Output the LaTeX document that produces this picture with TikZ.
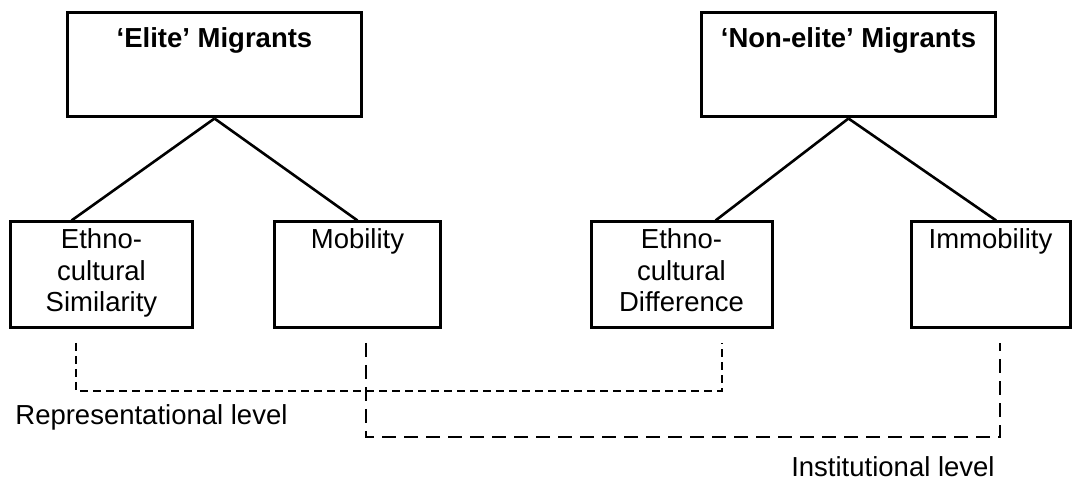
\documentclass[tikz,border=0pt]{standalone}
\usepackage{fontspec}
\setmainfont{Liberation Sans}
\usetikzlibrary{calc}
\begin{document}
\begin{tikzpicture}[x=0.5bp, y=-0.5bp,
    box/.style={draw, line width=1.5bp, inner sep=0pt, minimum height=53bp},
    topbox/.style={box, minimum width=146.5bp, minimum height=52bp},
    lab/.style={font=\fontsize{13.8}{15.75}\selectfont, align=center, inner sep=0pt},
    link/.style={line width=1.3bp},
    rep/.style={line width=1.3bp, dash pattern=on 4bp off 2.5bp},
    inst/.style={line width=1.3bp, dash pattern=on 7bp off 4bp}]
    \useasboundingbox (0,0) rectangle (1072,484);

    \node[topbox] (elite) at (214.5,65) {};
    \node[topbox] (nonelite) at (848.5,65) {};
    \node[lab, anchor=north, font=\fontsize{13.8}{15.75}\selectfont\bfseries]
      (elitetxt) at ([yshift=-8bp]elite.north) {‘Elite’ Migrants};
    \node[lab, anchor=north, font=\fontsize{13.8}{15.75}\selectfont\bfseries]
      (nonelitetxt) at ([yshift=-8bp]nonelite.north) {‘Non-elite’ Migrants};

    \node[box, minimum width=90.5bp] (simil) at (101.5,275) {};
    \node[box, minimum width=82.5bp] (mob) at (357.5,275) {};
    \node[box, minimum width=90.5bp] (diff) at (681.5,275) {};
    \node[box, minimum width=79.5bp] (immob) at (990.5,275) {};
    \node[lab, anchor=north] (similtxt) at ([yshift=-4bp]simil.north)
      {Ethno-\\cultural\\Similarity};
    \node[lab, anchor=north] (mobtxt) at ([yshift=-4bp]mob.north) {Mobility};
    \node[lab, anchor=north] (difftxt) at ([yshift=-4bp]diff.north)
      {Ethno-\\cultural\\Difference};
    \node[lab, anchor=north] (immobtxt) at ([yshift=-4bp]immob.north) {Immobility};

    \draw[link] (elite.south) -- ($(simil.north west)!.337!(simil.north east)$);
    \draw[link] (elite.south) -- (mob.north);
    \draw[link] (nonelite.south) -- ($(diff.north west)!.685!(diff.north east)$);
    \draw[link] (nonelite.south) -- ($(immob.north west)!.535!(immob.north east)$);

    \coordinate (repa) at (76,343);
    \coordinate (repb) at (722,343);
    \coordinate (insta) at (366,343);
    \coordinate (instb) at (1000,343);
    \draw[rep] (repa) -- ++(0,48) -| (repb);
    \draw[inst] (insta) -- ++(0,94) -| (instb);

    \node[lab, anchor=base west] (replab) at (15,425) {Representational level};
    \node[lab, anchor=base east] (instlab) at (995,477) {Institutional level};
\end{tikzpicture}
\end{document}
